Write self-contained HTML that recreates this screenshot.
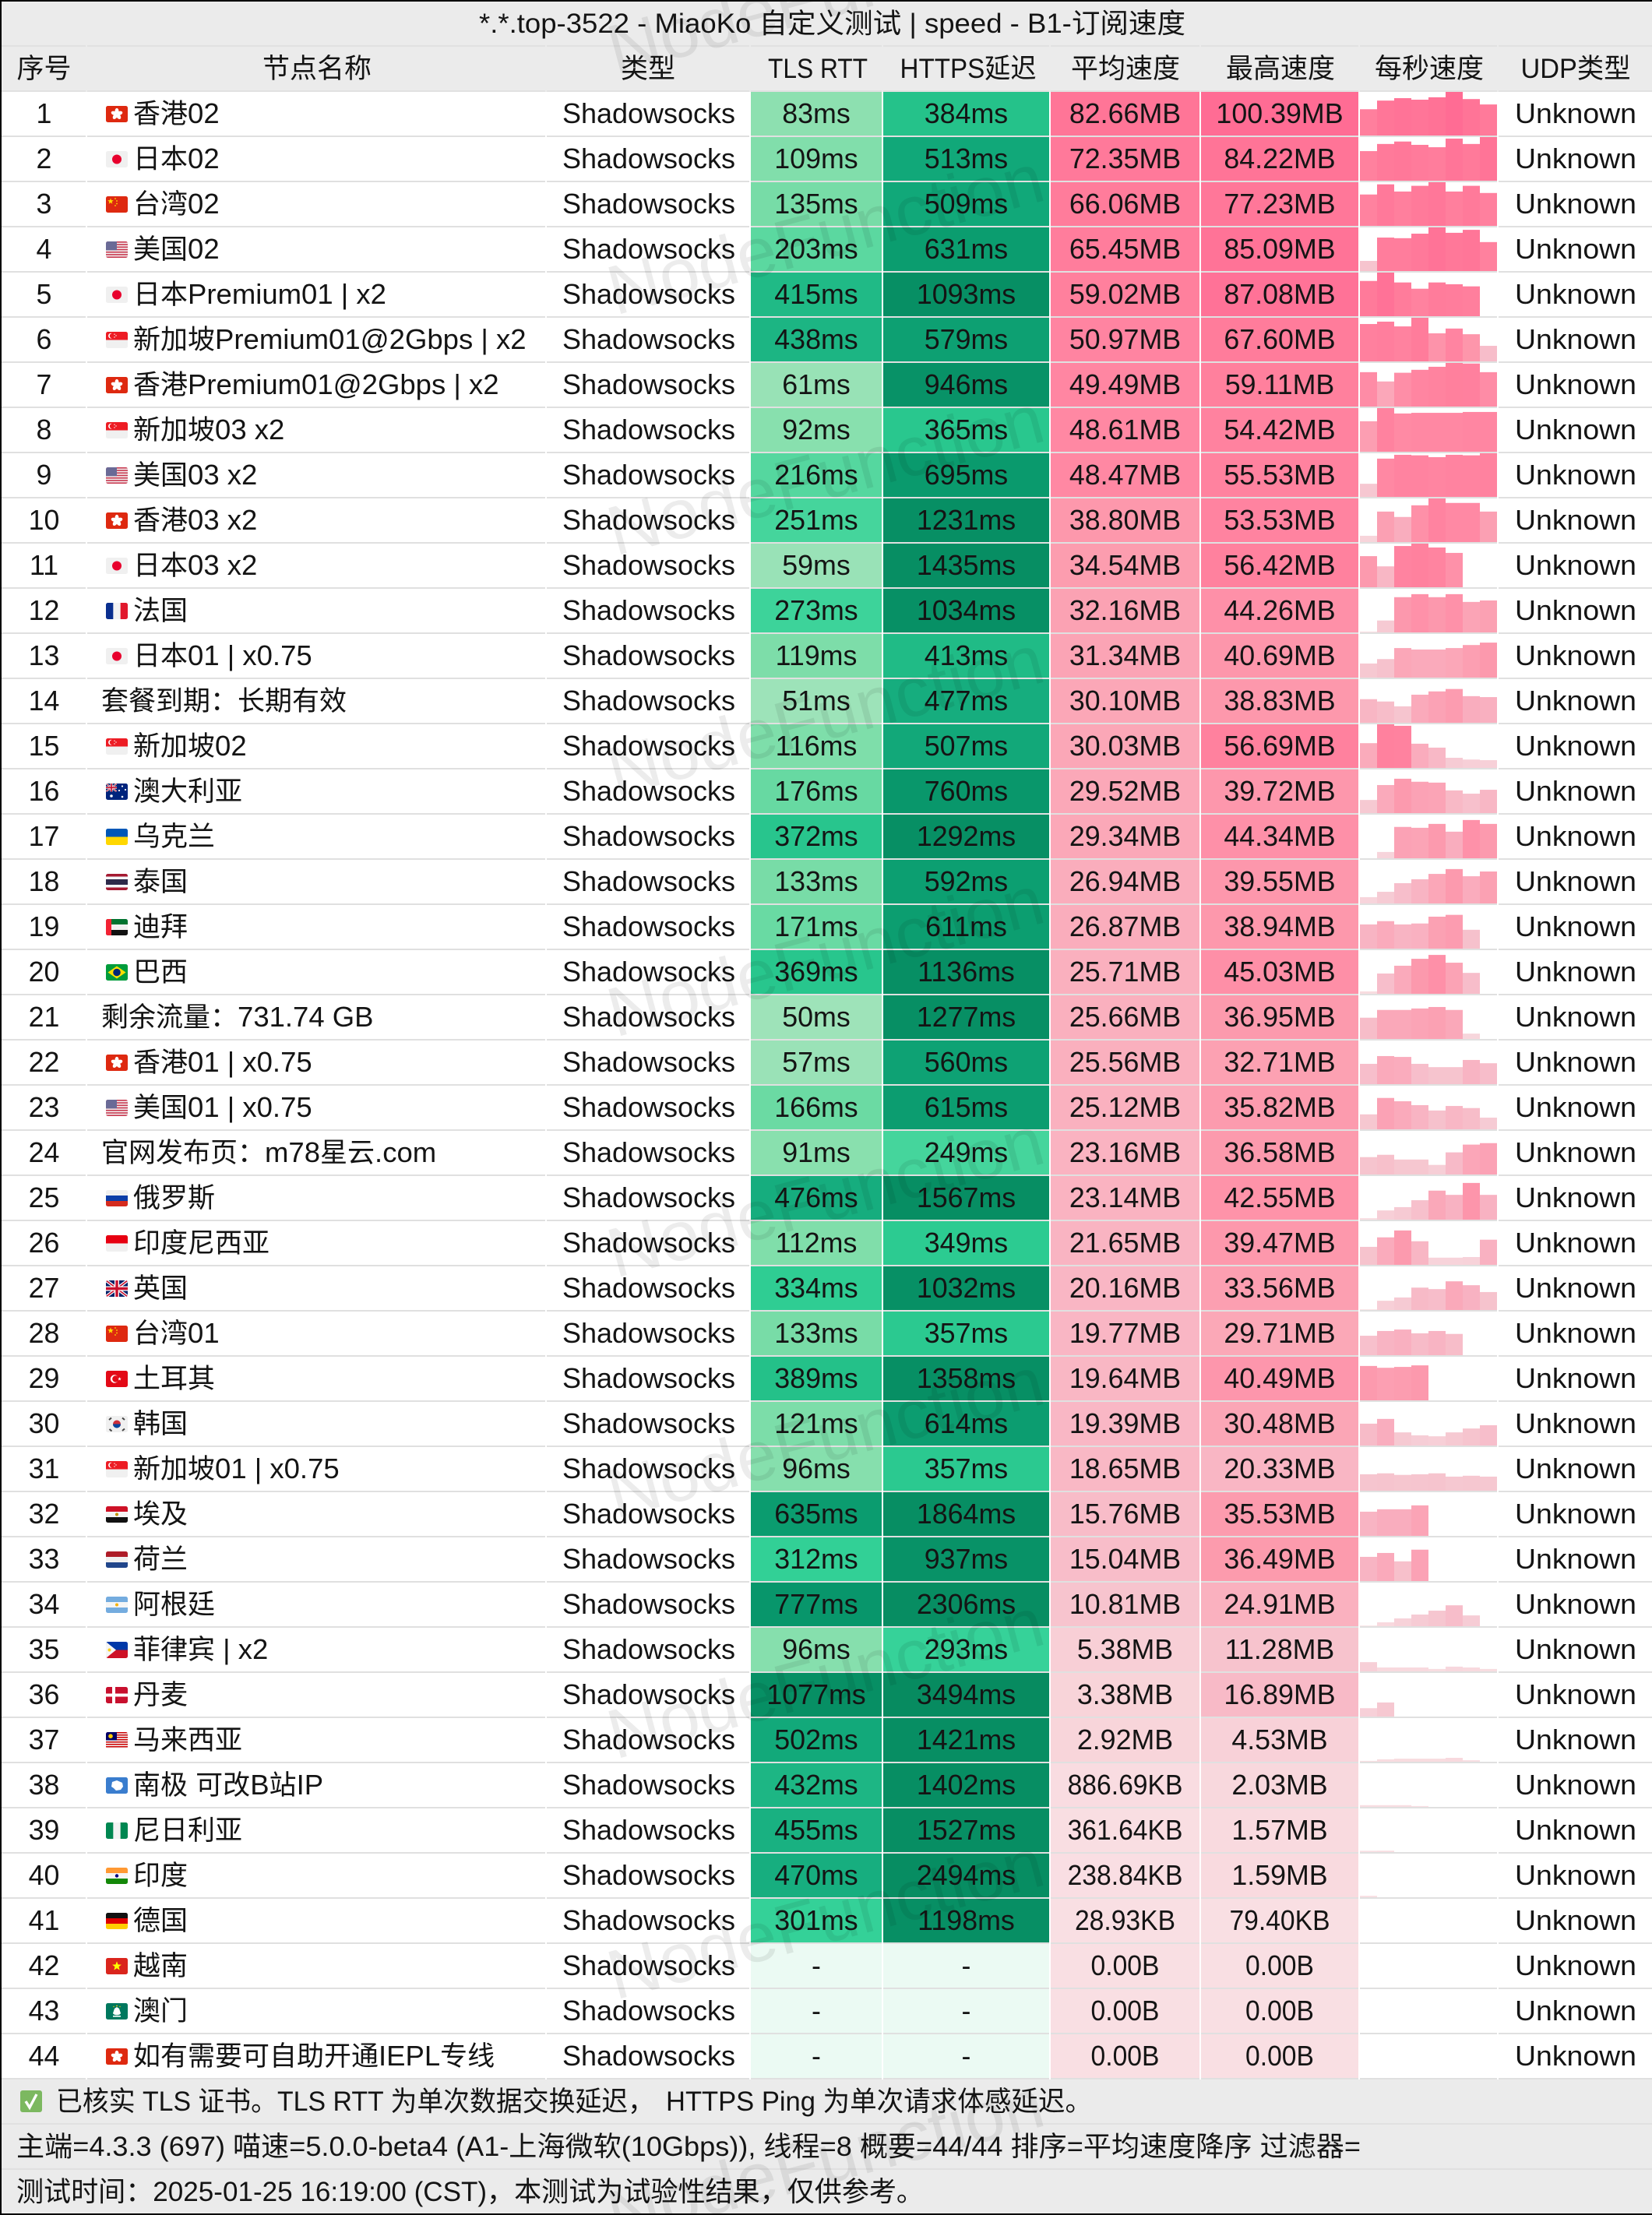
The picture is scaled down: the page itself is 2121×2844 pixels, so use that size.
<!DOCTYPE html>
<html lang="zh-CN">
<head>
<meta charset="utf-8">
<title>MiaoKo speed test</title>
<style>
html,body{margin:0;padding:0;background:#fff;width:2121px;height:2844px;overflow:hidden}
svg{display:block}
text{font-family:"Liberation Sans","Noto Sans CJK SC",sans-serif;fill:#141414;white-space:pre}
.h{font-size:35px;text-anchor:middle}
.f{font-size:35.5px}
.wm{font-size:90px;fill:#000;fill-opacity:.075}
</style>
</head>
<body>
<svg id="sheet" xmlns="http://www.w3.org/2000/svg" width="2121" height="2844" viewBox="0 0 2121 2844">
  <defs><clipPath id="flag-clip"><rect width="28" height="21" rx="2.5"/></clipPath></defs>
  <rect width="2121" height="2844" fill="#fff"/>
  <rect x="2" y="2" width="2119" height="56" fill="#ebebeb"/>
  <rect x="2" y="58" width="2119" height="60" fill="#ebebeb"/>
  <g id="header-rules"></g>
  <text class="f" x="615" y="42" textLength="907" lengthAdjust="spacingAndGlyphs">*.*.top-3522 - MiaoKo 自定义测试 | speed - B1-订阅速度</text>
  <g>
    <text class="h" x="56.5" y="100">序号</text>
    <text class="h" x="407" y="100">节点名称</text>
    <text class="h" x="832" y="100">类型</text>
    <text class="h" x="1050" y="100" textLength="128" lengthAdjust="spacingAndGlyphs">TLS RTT</text>
    <text class="h" x="1243" y="100" textLength="175" lengthAdjust="spacingAndGlyphs">HTTPS延迟</text>
    <text class="h" x="1445" y="100">平均速度</text>
    <text class="h" x="1644" y="100">最高速度</text>
    <text class="h" x="1835" y="100">每秒速度</text>
    <text class="h" x="2023" y="100" textLength="141" lengthAdjust="spacingAndGlyphs">UDP类型</text>
  </g>
  <g id="rows"></g>
  <g>
    <rect x="2" y="2670" width="2119" height="172" fill="#ebebeb"/>
    <rect x="2" y="2726" width="2119" height="2" fill="#e0e0e0"/>
    <rect x="2" y="2784" width="2119" height="2" fill="#e0e0e0"/>
    <g>
      <rect x="26" y="2684" width="28" height="28" rx="3" fill="#7cb860"/>
      <path d="M33 2698l5 8 9-17" fill="none" stroke="#fff" stroke-width="3.4"/>
    </g>
    <text class="f" x="72" y="2710" textLength="768" lengthAdjust="spacingAndGlyphs">已核实 TLS 证书。TLS RTT 为单次数据交换延迟，</text>
    <text class="f" x="855" y="2710" textLength="547" lengthAdjust="spacingAndGlyphs">HTTPS Ping 为单次请求体感延迟。</text>
    <text class="f" x="21" y="2768" textLength="1726" lengthAdjust="spacingAndGlyphs">主端=4.3.3 (697) 喵速=5.0.0-beta4 (A1-上海微软(10Gbps)), 线程=8 概要=44/44 排序=平均速度降序 过滤器=</text>
    <text class="f" x="21" y="2826" textLength="1165" lengthAdjust="spacingAndGlyphs">测试时间：2025-01-25 16:19:00 (CST)，本测试为试验性结果，仅供参考。</text>
  </g>
  <g>
    <text class="wm" textLength="575" lengthAdjust="spacingAndGlyphs" transform="translate(790 96) rotate(-15)">NodeFunction</text>
    <text class="wm" textLength="575" lengthAdjust="spacingAndGlyphs" transform="translate(790 405) rotate(-15)">NodeFunction</text>
    <text class="wm" textLength="575" lengthAdjust="spacingAndGlyphs" transform="translate(790 714) rotate(-15)">NodeFunction</text>
    <text class="wm" textLength="575" lengthAdjust="spacingAndGlyphs" transform="translate(790 1023) rotate(-15)">NodeFunction</text>
    <text class="wm" textLength="575" lengthAdjust="spacingAndGlyphs" transform="translate(790 1332) rotate(-15)">NodeFunction</text>
    <text class="wm" textLength="575" lengthAdjust="spacingAndGlyphs" transform="translate(790 1641) rotate(-15)">NodeFunction</text>
    <text class="wm" textLength="575" lengthAdjust="spacingAndGlyphs" transform="translate(790 1950) rotate(-15)">NodeFunction</text>
    <text class="wm" textLength="575" lengthAdjust="spacingAndGlyphs" transform="translate(790 2259) rotate(-15)">NodeFunction</text>
    <text class="wm" textLength="575" lengthAdjust="spacingAndGlyphs" transform="translate(790 2568) rotate(-15)">NodeFunction</text>
    <text class="wm" textLength="575" lengthAdjust="spacingAndGlyphs" transform="translate(790 2877) rotate(-15)">NodeFunction</text>
  </g>
  <g>
    <rect x="0" y="0" width="2121" height="2" fill="#000"/>
    <rect x="0" y="0" width="2" height="2844" fill="#000"/>
    <rect x="0" y="2842" width="2121" height="2" fill="#000"/>
  </g>
</svg>
<script>
const nodeNames = ["香港02","日本02","台湾02","美国02","日本Premium01 | x2","新加坡Premium01@2Gbps | x2","香港Premium01@2Gbps | x2","新加坡03 x2","美国03 x2","香港03 x2","日本03 x2","法国","日本01 | x0.75","套餐到期：长期有效","新加坡02","澳大利亚","乌克兰","泰国","迪拜","巴西","剩余流量：731.74 GB","香港01 | x0.75","美国01 | x0.75","官网发布页：m78星云.com","俄罗斯","印度尼西亚","英国","台湾01","土耳其","韩国","新加坡01 | x0.75","埃及","荷兰","阿根廷","菲律宾 | x2","丹麦","马来西亚","南极 可改B站IP","尼日利亚","印度","德国","越南","澳门","如有需要可自助开通IEPL专线"];
const flagCodes = ["HK","JP","CN","US","JP","SG","HK","SG","US","HK","JP","FR","JP","","SG","AU","UA","TH","AE","BR","","HK","US","","RU","ID","GB","CN","TR","KR","SG","EG","NL","AR","PH","DK","MY","AQ","NG","IN","DE","VN","MO","HK"];
const tlsRtt = [83,109,135,203,415,438,61,92,216,251,59,273,119,51,116,176,372,133,171,369,50,57,166,91,476,112,334,133,389,121,96,635,312,777,96,1077,502,432,455,470,301,null,null,null];
const httpsPing = [384,513,509,631,1093,579,946,365,695,1231,1435,1034,413,477,507,760,1292,592,611,1136,1277,560,615,249,1567,349,1032,357,1358,614,357,1864,937,2306,293,3494,1421,1402,1527,2494,1198,null,null,null];
const avgSpeed = ["82.66MB","72.35MB","66.06MB","65.45MB","59.02MB","50.97MB","49.49MB","48.61MB","48.47MB","38.80MB","34.54MB","32.16MB","31.34MB","30.10MB","30.03MB","29.52MB","29.34MB","26.94MB","26.87MB","25.71MB","25.66MB","25.56MB","25.12MB","23.16MB","23.14MB","21.65MB","20.16MB","19.77MB","19.64MB","19.39MB","18.65MB","15.76MB","15.04MB","10.81MB","5.38MB","3.38MB","2.92MB","886.69KB","361.64KB","238.84KB","28.93KB","0.00B","0.00B","0.00B"];
const maxSpeed = ["100.39MB","84.22MB","77.23MB","85.09MB","87.08MB","67.60MB","59.11MB","54.42MB","55.53MB","53.53MB","56.42MB","44.26MB","40.69MB","38.83MB","56.69MB","39.72MB","44.34MB","39.55MB","38.94MB","45.03MB","36.95MB","32.71MB","35.82MB","36.58MB","42.55MB","39.47MB","33.56MB","29.71MB","40.49MB","30.48MB","20.33MB","35.53MB","36.49MB","24.91MB","11.28MB","16.89MB","4.53MB","2.03MB","1.57MB","1.59MB","79.40KB","0.00B","0.00B","0.00B"];
const perSecondMB = [
[60.5,80.4,86.0,82.5,88.0,100.4,83.9,71.5],
[57.1,70.9,75.6,69.2,64.6,81.3,70.9,84.2],
[55.5,73.5,60.8,70.9,77.2,60.8,70.9,58.2],
[19.8,65.3,64.1,72.9,85.1,74.6,80.4,56.5],
[70.4,87.1,67.4,54.9,67.4,63.8,59.6,0],
[57.9,61.6,54.2,67.6,43.5,50.9,42.1,24.1],
[46.6,34.0,45.8,49.8,53.9,59.1,58.3,46.6],
[38.0,54.4,47.7,48.5,48.5,48.5,49.6,49.6],
[16.7,48.7,53.6,52.9,50.6,53.6,52.9,55.5],
[7.7,37.4,30.8,45.1,53.5,48.0,48.0,37.4],
[40.2,27.0,53.3,56.4,51.4,44.4,0,0],
[1.0,13.8,40.8,44.3,40.8,44.3,35.3,37.0],
[16.3,21.4,34.2,32.5,32.5,34.2,37.7,40.5],
[27.3,24.6,19.0,32.5,36.3,39.1,30.8,29.7],
[32.2,56.7,54.8,31.5,26.4,13.2,10.9,10.1],
[15.2,32.5,39.8,36.3,35.3,26.3,22.5,27.0],
[0,7.3,36.3,35.3,39.8,30.8,44.3,39.8],
[7.3,13.5,23.5,28.0,34.2,39.8,31.5,37.0],
[28.0,31.8,28.0,29.1,37.0,39.1,21.8,0],
[2.8,23.5,32.5,40.5,45.0,36.0,24.2,0],
[24.6,33.6,33.6,35.3,37.0,33.6,6.2,0],
[23.5,32.5,31.5,23.5,19.7,19.7,28.0,24.2],
[17.3,36.3,32.5,28.0,21.8,27.0,24.6,13.5],
[20.1,22.8,17.3,17.3,11.1,25.6,34.6,36.3],
[1.7,10.7,14.5,22.5,33.6,28.7,42.5,28.7],
[20.8,31.8,39.8,27.3,8.3,8.3,9.0,29.1],
[0.7,10.7,14.5,25.9,24.2,33.2,28.7,20.8],
[22.5,28.0,29.7,25.3,28.0,24.6,0,0],
[39.8,37.7,38.7,40.5,0,0,0,0],
[25.3,30.8,15.2,11.8,10.7,15.2,19.7,23.5],
[19.0,20.1,18.3,19.0,20.1,16.3,17.3,16.3],
[28.0,30.8,30.8,35.3,0,0,0,0],
[28.0,32.5,22.8,36.3,0,0,0,0],
[0.7,4.5,9.0,13.5,18.0,24.2,12.5,0],
[10.7,4.5,4.5,4.5,2.8,5.5,4.5,2.8],
[9.7,16.3,0,0,0,0,0,0],
[1.0,2.8,3.5,3.5,3.5,4.5,1.7,0],
[2.0,2.0,2.0,1.0,0,0,0,0],
[1.5,1.57,0,0,0,0,0,0],
[1.59,0,0,0,0,0,0,0],
[0.08,0.05,0,0,0,0,0,0],
[0,0,0,0,0,0,0,0],
[0,0,0,0,0,0,0,0],
[0,0,0,0,0,0,0,0]
];

const COLS = [[2,110],[112,700],[702,962],[964,1132],[1134,1347],[1349,1540],[1542,1744],[1746,1922],[1924,2121]];
const ROW_TOP = 118, ROW_PITCH = 58, ROW_H = 56, BAR_W = 22, BAR_SCALE_FLOOR = 50.5;
const latencyRamp = [[50,"#9ee3b9"],[100,"#84dfac"],[150,"#72dba5"],[200,"#5cd8a0"],[250,"#45d59c"],[300,"#34d198"],[350,"#2ccb91"],[400,"#22be87"],[450,"#1ab282"],[500,"#12a97a"],[600,"#0c9e70"],[800,"#08956a"],[1100,"#078f64"],[3500,"#078b60"]];
const speedRamp = [[0,"#f9dfe3"],[1,"#f9dce1"],[3,"#f8d5da"],[5,"#f8d0d7"],[10,"#f7c5cf"],[15,"#f8bdc9"],[20,"#f9b6c4"],[25,"#fab1bf"],[30,"#fba7b7"],[35,"#fc9cae"],[40,"#fd97ac"],[45,"#fe8fa7"],[50,"#ff85a1"],[60,"#ff7f9d"],[80,"#ff7698"],[100,"#ff6c94"]];
const barRamp = [[0,"#f9dfe3"],[2,"#f8dde1"],[8,"#f7d3da"],[14,"#f6cad3"],[20,"#f6c4ce"],[25,"#f7bcc9"],[30,"#f9afbf"],[35,"#fba5b7"],[40,"#fc9aae"],[45,"#fe90a8"],[50,"#ff85a1"],[60,"#ff7f9d"],[80,"#ff7698"],[100,"#ff6c94"]];

const flagArt = (function(){
  const bands = function(cols){return cols.map(function(c,i){return '<rect y="'+(21/cols.length*i)+'" width="28" height="'+(21/cols.length+.3)+'" fill="'+c+'"/>';}).join('');};
  const vbands = function(cols){return cols.map(function(c,i){return '<rect x="'+(28/cols.length*i)+'" width="'+(28/cols.length+.3)+'" height="21" fill="'+c+'"/>';}).join('');};
  const star = function(x,y,r,c){var p=[];for(var i=0;i<10;i++){var a=-Math.PI/2+i*Math.PI/5,q=i%2?r*.42:r;p.push((x+q*Math.cos(a)).toFixed(2)+','+(y+q*Math.sin(a)).toFixed(2));}return '<polygon points="'+p.join(' ')+'" fill="'+c+'"/>';};
  var petals='';for(var i=0;i<5;i++){petals+='<ellipse cx="14" cy="6.6" rx="2.5" ry="3.7" fill="#fff" transform="rotate('+(i*72)+' 14 10.5)"/>';}
  var usStripes='';for(var s=0;s<7;s++){usStripes+='<rect y="'+(s*3.23)+'" width="28" height="1.62" fill="#c8384f"/>';}
  var myStripes='';for(var m=0;m<7;m++){myStripes+='<rect y="'+(m*3.0)+'" width="28" height="1.5" fill="#cc0001"/>';}
  var gb='<rect width="28" height="21" fill="#012169"/><path d="M0 0L28 21M28 0L0 21" stroke="#fff" stroke-width="4"/><path d="M0 0L28 21M28 0L0 21" stroke="#c8102e" stroke-width="1.6"/><path d="M14 0V21M0 10.5H28" stroke="#fff" stroke-width="6"/><path d="M14 0V21M0 10.5H28" stroke="#c8102e" stroke-width="3.4"/>';
  return {
    HK:'<rect width="28" height="21" fill="#de2910"/>'+petals,
    JP:'<rect width="28" height="21" fill="#f0f0f0"/><circle cx="14" cy="10.5" r="6" fill="#e8002d"/>',
    CN:'<rect width="28" height="21" fill="#de2910"/>'+star(6,6.5,4,'#ffde00')+'<circle cx="12" cy="3" r=".9" fill="#ffde00"/><circle cx="14" cy="6" r=".9" fill="#ffde00"/><circle cx="14" cy="9.5" r=".9" fill="#ffde00"/><circle cx="12" cy="12" r=".9" fill="#ffde00"/>',
    US:'<rect width="28" height="21" fill="#f3f3f3"/>'+usStripes+'<rect width="14" height="11.3" fill="#6a6a96"/>',
    SG:bands(['#ed1c24','#f0f0f0'])+'<circle cx="6.5" cy="5.2" r="3.4" fill="#fff"/><circle cx="8" cy="5.2" r="3.2" fill="#ed1c24"/><circle cx="11" cy="3.2" r=".7" fill="#fff"/><circle cx="13" cy="5" r=".7" fill="#fff"/><circle cx="11" cy="7" r=".7" fill="#fff"/>',
    FR:vbands(['#0a2f8f','#f3f3f3','#e1182c']),
    AU:'<rect width="28" height="21" fill="#00247d"/><svg width="14" height="10.5" viewBox="0 0 28 21">'+gb+'</svg><circle cx="7" cy="16" r="1.8" fill="#fff"/><circle cx="21" cy="3.5" r="1.1" fill="#fff"/><circle cx="25" cy="8" r="1.1" fill="#fff"/><circle cx="17" cy="9" r="1.1" fill="#fff"/><circle cx="21" cy="17" r="1.3" fill="#fff"/>',
    UA:bands(['#0057b7','#ffd700']),
    TH:'<rect width="28" height="21" fill="#a51931"/><rect y="3.5" width="28" height="14" fill="#f4f5f8"/><rect y="7" width="28" height="7" fill="#2d2a4a"/>',
    AE:bands(['#00732f','#f0f0f0','#111'])+'<rect width="7" height="21" fill="#f32233"/>',
    BR:'<rect width="28" height="21" fill="#009c3b"/><polygon points="14,2.5 25.5,10.5 14,18.5 2.5,10.5" fill="#ffdf00"/><circle cx="14" cy="10.5" r="4.8" fill="#002776"/>',
    RU:bands(['#f0f0f0','#0c3ea8','#d52b1e']),
    ID:bands(['#e70011','#f0f0f0']),
    GB:gb,
    TR:'<rect width="28" height="21" fill="#e30a17"/><circle cx="11" cy="10.5" r="5.2" fill="#fff"/><circle cx="12.4" cy="10.5" r="4.2" fill="#e30a17"/>'+star(17.5,10.5,2.4,'#fff'),
    KR:'<rect width="28" height="21" fill="#f0f0f0"/><circle cx="14" cy="10.5" r="5" fill="#cd2e3a"/><path d="M9 10.5a5 5 0 0 0 10 0z" fill="#0047a0"/><path d="M4 5l3-2.5M4.5 17l3 2.500M24 5l-3-2.500M24 16.500l-3 2.500" stroke="#444" stroke-width="2"/>',
    EG:bands(['#ce1126','#f5f5f5','#111'])+'<circle cx="14" cy="10.5" r="2" fill="#c09300"/>',
    NL:bands(['#ae1c28','#f0f0f0','#21468b']),
    AR:bands(['#74acdf','#f5f5f5','#74acdf'])+'<circle cx="14" cy="10.5" r="2" fill="#f6b40e"/>',
    PH:bands(['#0038a8','#ce1126'])+'<polygon points="0,0 13,10.500 0,21" fill="#f5f5f5"/><circle cx="4.5" cy="10.5" r="2" fill="#fcd116"/>',
    DK:'<rect width="28" height="21" fill="#c8102e"/><rect x="8" width="4" height="21" fill="#fff"/><rect y="8.500" width="28" height="4" fill="#fff"/>',
    MY:'<rect width="28" height="21" fill="#f3f3f3"/>'+myStripes+'<rect width="14" height="10.500" fill="#010066"/><circle cx="6" cy="5.200" r="2.800" fill="#fc0"/>',
    AQ:'<rect width="28" height="21" fill="#3a7dce"/><path d="M8 6l6-2 7 3 1 5-3 4-6 1-3-3-3-2z" fill="#fff"/>',
    NG:vbands(['#008751','#f3f3f3','#008751']),
    IN:bands(['#ff9933','#f5f5f5','#138808'])+'<circle cx="14" cy="10.5" r="2.200" fill="#000080"/>',
    DE:bands(['#111','#dd0000','#ffce00']),
    VN:'<rect width="28" height="21" fill="#da251d"/>'+star(14,10.5,6.200,'#ff0'),
    MO:'<rect width="28" height="21" fill="#00785e"/><path d="M9 13c1 3 9 3 10 0l-2-6-3-2-3 2z" fill="#fff"/><circle cx="14" cy="3.500" r=".9" fill="#fc0"/><circle cx="10" cy="4.500" r=".7" fill="#fc0"/><circle cx="18" cy="4.500" r=".7" fill="#fc0"/><rect x="9" y="16" width="10" height="1.600" fill="#fff"/>'
  };
})();

const SVG_NS = 'http://www.w3.org/2000/svg';
function mk(tag, attrs, parent){
  const el = document.createElementNS(SVG_NS, tag);
  for (const k in attrs) el.setAttribute(k, attrs[k]);
  parent.appendChild(el);
  return el;
}
function hexToRgb(h){return [parseInt(h.slice(1,3),16),parseInt(h.slice(3,5),16),parseInt(h.slice(5,7),16)];}
function ramp(stops, v){
  if (v <= stops[0][0]) return stops[0][1];
  for (let i = 1; i < stops.length; i++){
    if (v <= stops[i][0]){
      const t = (v - stops[i-1][0]) / (stops[i][0] - stops[i-1][0]);
      const a = hexToRgb(stops[i-1][1]), b = hexToRgb(stops[i][1]);
      return 'rgb(' + a.map(function(c,j){return Math.round(c + (b[j]-c)*t);}).join(',') + ')';
    }
  }
  return stops[stops.length-1][1];
}
function toMB(label){
  const m = /([\d.]+)(MB|KB|B)/.exec(label);
  const n = parseFloat(m[1]);
  return m[2] === 'MB' ? n : m[2] === 'KB' ? n/1024 : n/1048576;
}
function yScale(mb, rowPeak){
  return mb / Math.max(rowPeak, BAR_SCALE_FLOOR) * ROW_H;
}
function writeMixed(el, str){
  const parts = str.match(/[\u3000-\u9fff\uff00-\uffef]+|[^\u3000-\u9fff\uff00-\uffef]+/g) || [];
  parts.forEach(function(p){
    const isCjk = /^[\u3000-\u9fff\uff00-\uffef]/.test(p);
    const t = mk('tspan', {'font-size': isCjk ? 35 : 36.5}, el);
    t.textContent = p;
  });
}
function centerText(parent, cx, y, str){
  const t = mk('text', {x: cx, y: y, 'text-anchor': 'middle', 'font-size': 35.8}, parent);
  t.textContent = str;
  return t;
}
function narrowIfNotMB(t, label){
  if (label.indexOf('MB') === -1){
    t.setAttribute('textLength', (t.getComputedTextLength() * 0.94).toFixed(1));
    t.setAttribute('lengthAdjust', 'spacingAndGlyphs');
  }
}

const headerRules = document.getElementById('header-rules');
[58, 116].forEach(function(y){
  COLS.forEach(function(c){
    const r = mk('rect', {x: c[0], y: y, width: c[1]-c[0], height: 2, fill: '#e1e1e1'}, headerRules);
    
    
  });
});

const rowsRoot = document.getElementById('rows');
nodeNames.forEach(function(name, i){
  const top = ROW_TOP + ROW_PITCH * i;
  const base = top + 40;
  const row = mk('g', {}, rowsRoot);
  
  

  COLS.forEach(function(c){
    const r = mk('rect', {x: c[0], y: top + ROW_H, width: c[1]-c[0], height: 2, fill: '#e0e0e0'}, row);
    
    
  });

  const idx = centerText(row, 56.5, base, String(i+1));
  
  

  const code = flagCodes[i];
  if (code){
    const fg = mk('g', {transform: 'translate(136 ' + (top+18) + ')', 'clip-path': 'url(#flag-clip)'}, row);
    
    
    fg.innerHTML = flagArt[code];
  }
  const nameEl = mk('text', {x: code ? 171 : 130, y: base}, row);
  
  
  writeMixed(nameEl, name);

  const typeEl = mk('text', {x: 722, y: base, 'font-size': 36, textLength: 222, lengthAdjust: 'spacingAndGlyphs'}, row);
  
  
  typeEl.textContent = 'Shadowsocks';

  [[tlsRtt[i], COLS[3], 'tls-rtt'], [httpsPing[i], COLS[4], 'https-latency']].forEach(function(d){
    const cell = mk('rect', {x: d[1][0], y: top, width: d[1][1]-d[1][0], height: ROW_H, fill: d[0] === null ? '#ebfaf3' : ramp(latencyRamp, d[0])}, row);
    
    
    const t = centerText(row, (d[1][0]+d[1][1])/2, base, d[0] === null ? '-' : d[0] + 'ms');
    
    
  });

  [[avgSpeed[i], COLS[5], 'average-speed'], [maxSpeed[i], COLS[6], 'max-speed']].forEach(function(d){
    const cell = mk('rect', {x: d[1][0], y: top, width: d[1][1]-d[1][0], height: ROW_H, fill: ramp(speedRamp, toMB(d[0]))}, row);
    
    
    const t = centerText(row, (d[1][0]+d[1][1])/2, base, d[0]);
    
    
    narrowIfNotMB(t, d[0]);
  });

  const series = perSecondMB[i];
  const peak = Math.max.apply(null, series);
  series.forEach(function(v, j){
    if (v <= 0) return;
    const h = yScale(v, peak);
    const bar = mk('rect', {x: COLS[7][0] + j*BAR_W, y: top + ROW_H - h, width: BAR_W, height: h, fill: ramp(barRamp, v)}, row);
    
    
  });

  const udp = mk('text', {x: 1945, y: base, 'font-size': 36, textLength: 156, lengthAdjust: 'spacingAndGlyphs'}, row);
  
  
  udp.textContent = 'Unknown';
});
</script>
</body>
</html>
